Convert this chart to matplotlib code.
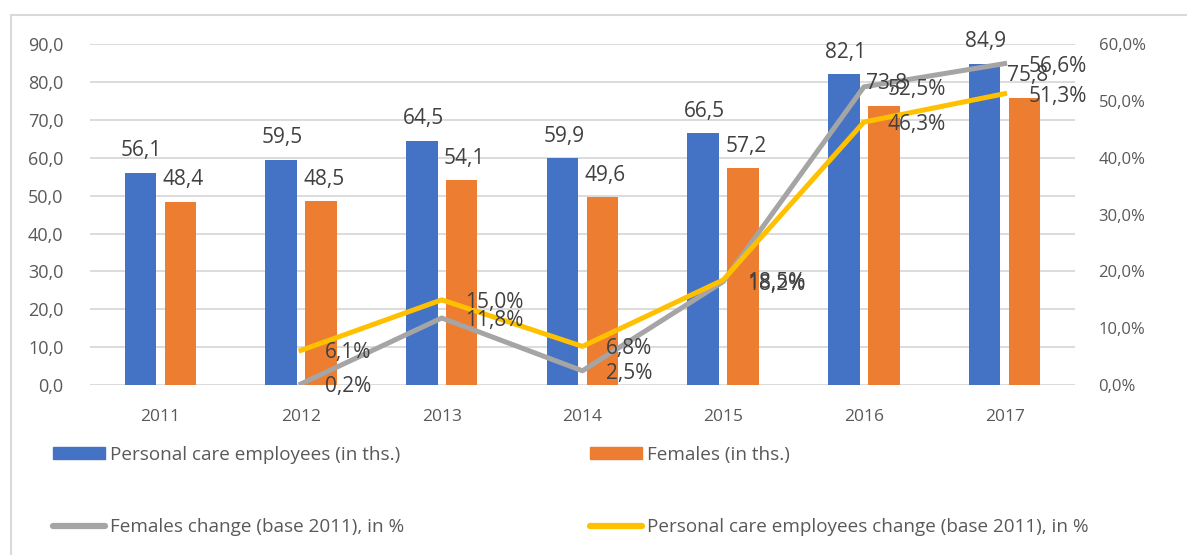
import matplotlib
matplotlib.use("Agg")
import matplotlib.pyplot as plt
from matplotlib.lines import Line2D
from matplotlib.patches import Patch

years = ["2011", "2012", "2013", "2014", "2015", "2016", "2017"]
employees = [56.1, 59.5, 64.5, 59.9, 66.5, 82.1, 84.9]
females = [48.4, 48.5, 54.1, 49.6, 57.2, 73.8, 75.8]
# change vs 2011, in %, starting from 2012
females_change = [0.2, 11.8, 2.5, 18.2, 52.5, 56.6]
employees_change = [6.1, 15.0, 6.8, 18.5, 46.3, 51.3]

blue = "#4472C4"
orange = "#ED7D31"
gray = "#A5A5A5"
yellow = "#FFC000"
txt = "#404040"
tick_col = "#595959"

plt.rcParams["font.family"] = ["Open Sans", "DejaVu Sans"]

fig = plt.figure(figsize=(11.87, 5.55), dpi=100)
ax1 = fig.add_axes([0.0758, 0.3063, 0.8298, 0.6139])
ax2 = ax1.twinx()

x = list(range(len(years)))
w = 0.224
off = 0.142
ax1.bar([i - off for i in x], employees, w, color=blue, zorder=2)
ax1.bar([i + off for i in x], females, w, color=orange, zorder=2)

ax1.set_xlim(-0.5, 6.5)
ax1.set_ylim(0, 90)
ax1.set_yticks(range(0, 91, 10))
ax1.set_yticklabels([f"{v},0" for v in range(0, 91, 10)])
ax1.set_xticks(x)
ax1.set_xticklabels(years)
ax1.grid(axis="y", color="#D9D9D9", lw=1.3, zorder=0)
ax1.set_axisbelow(True)
ax1.tick_params(axis="y", length=0, pad=19, labelsize=13, labelcolor=tick_col)
ax1.tick_params(axis="x", length=0, pad=17, labelsize=12.5, labelcolor=tick_col)

ax2.set_ylim(0, 60)
ax2.set_yticks(range(0, 61, 10))
ax2.set_yticklabels([f"{v},0%" for v in range(0, 61, 10)])
ax2.tick_params(axis="y", length=0, pad=17, labelsize=12, labelcolor=tick_col)

for a in (ax1, ax2):
    for s in a.spines.values():
        s.set_visible(False)

x2 = x[1:]
ax2.plot(x2, females_change, color=gray, lw=3.6, solid_joinstyle="round", zorder=3)
ax2.plot(x2, employees_change, color=yellow, lw=3.6, solid_joinstyle="round", zorder=3)

def fmt(v):
    return f"{v:.1f}".replace(".", ",")

for i in x:
    ax2.annotate(fmt(employees[i]), (i - off, employees[i]), xycoords=ax1.transData,
                 xytext=(1, 12), textcoords="offset points", ha="center", va="baseline",
                 fontsize=15, color=txt, zorder=5)
    ax2.annotate(fmt(females[i]), (i + off, females[i]), xycoords=ax1.transData,
                 xytext=(2, 12), textcoords="offset points", ha="center", va="baseline",
                 fontsize=15, color=txt, zorder=5)

for vals in (females_change, employees_change):
    for xi, v in zip(x2, vals):
        ax2.annotate(fmt(v) + "%", (xi, v), xytext=(17, 0), textcoords="offset points",
                     ha="left", va="center_baseline", fontsize=15, color=txt, zorder=5)

handles = [
    (Patch(color=blue), "Personal care employees (in ths.)", 0.0447, 0.1802),
    (Patch(color=orange), "Females (in ths.)", 0.497, 0.1802),
    (Line2D([], [], color=gray, lw=4.5, solid_capstyle="round"), "Females change (base 2011), in %", 0.0447, 0.0505),
    (Line2D([], [], color=yellow, lw=4.5, solid_capstyle="round"), "Personal care employees change (base 2011), in %", 0.497, 0.0505),
]
for h, lab, lx, ly in handles:
    fig.legend([h], [lab], loc="center left", bbox_to_anchor=(lx, ly), frameon=False,
               fontsize=13.6, handlelength=2.75, handleheight=0.62, handletextpad=0.27,
               borderpad=0, borderaxespad=0, labelcolor=tick_col)

fig.add_artist(Line2D([11 / 1187, 1], [1 - 15 / 555, 1 - 15 / 555], color="#D9D9D9", lw=1.5))
fig.add_artist(Line2D([11 / 1187, 11 / 1187], [0, 1 - 15 / 555], color="#D9D9D9", lw=1.5))

fig.savefig("out.png", dpi=100)
